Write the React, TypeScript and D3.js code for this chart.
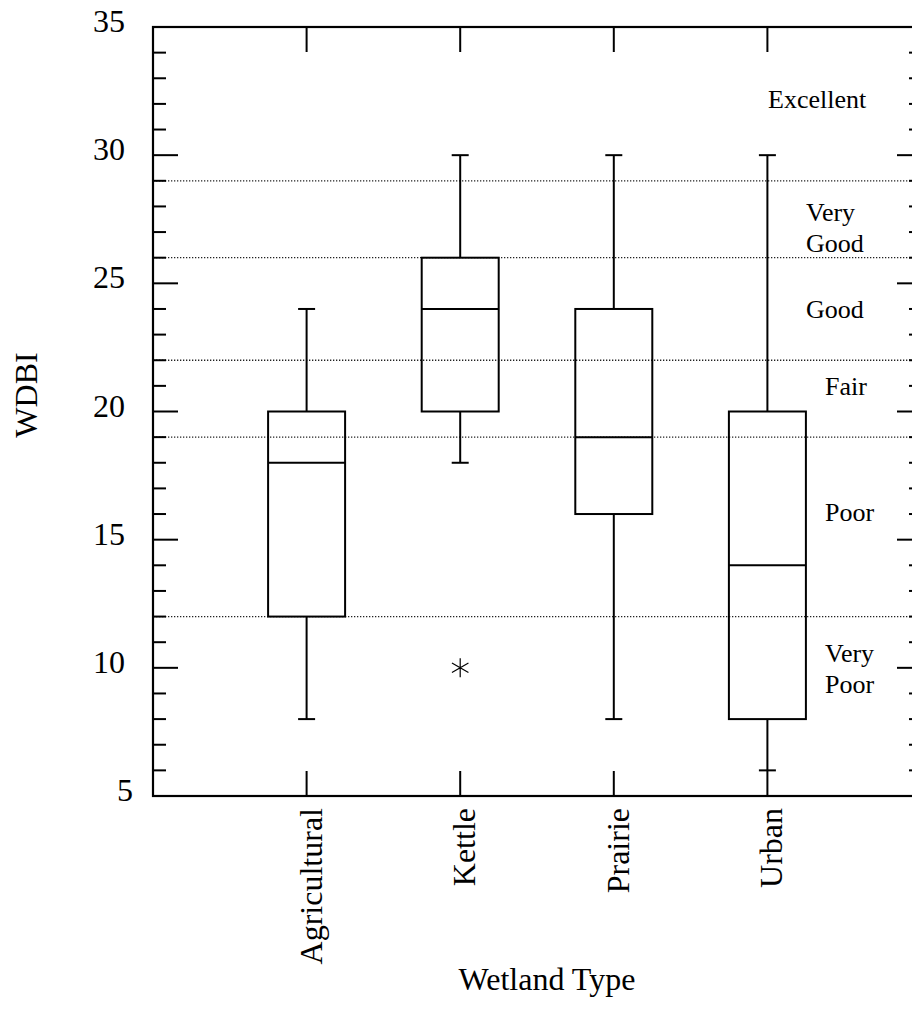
import React from 'react';
import * as d3 from 'd3';

// box plot summary per wetland type
const categories = ['Agricultural', 'Kettle', 'Prairie', 'Urban'];
const whiskerLow = [8, 18, 8, 6];
const quartile1 = [12, 20, 16, 8];
const medians = [18, 24, 19, 14];
const quartile3 = [20, 26, 24, 20];
const whiskerHigh = [24, 30, 30, 30];

const outlierCategories = ['Kettle'];
const outlierValues = [10];

// WDBI condition class limits and labels
const classLimits = [29, 26, 22, 19, 12];
const classLabels = [['Excellent'], ['Very', 'Good'], ['Good'], ['Fair'], ['Poor'], ['Very', 'Poor']];
const classLabelValues = [32.2, 27.2, 24, 21, 16.1, 10];

const yMajorTicks = [5, 10, 15, 20, 25, 30, 35];
const yMinorTicks = d3.range(5, 36);

const W = 912;
const H = 1024;
const FONT = '"Liberation Serif", "Times New Roman", serif';

const App = () => {
  const left = 153;
  const right = 922;
  const top = 27;
  const bottom = 796;

  const y = d3.scaleLinear().domain([5, 35]).range([bottom, top]);
  const x = d3.scalePoint<string>().domain(categories).range([left, 921]).padding(1);

  const boxHalf = 38.5;
  const capHalf = 8.5;
  const majorLen = 25;
  const minorLen = 13;

  const labelX = [768, 806, 806, 825, 825, 825];
  const lineGap = 31;

  const asterisk = d3.symbol(d3.symbolAsterisk, 256)();

  return (
    <svg width={W} height={H} style={{ position: 'absolute', left: 0, top: 0, background: '#fff' }}
      fontFamily={FONT}>
      {/* condition class limits */}
      {classLimits.map(v => (
        <line key={'lim' + v} x1={left} x2={right} y1={y(v)} y2={y(v)}
          stroke="#222" strokeWidth={1.3} strokeDasharray="1.3,1.7" />
      ))}

      {/* frame */}
      <rect x={left} y={top} width={right - left} height={bottom - top}
        fill="none" stroke="#000" strokeWidth={2.2} />

      {/* y ticks, left and right */}
      {yMinorTicks.map(v => {
        const len = v % 5 === 0 ? majorLen : minorLen;
        return (
          <g key={'yt' + v}>
            <line x1={left} x2={left + len} y1={y(v)} y2={y(v)} stroke="#000" strokeWidth={2} />
            <line x1={right} x2={right - len} y1={y(v)} y2={y(v)} stroke="#000" strokeWidth={2} />
          </g>
        );
      })}
      {yMajorTicks.map(v => (
        <text key={'yl' + v} x={v < 10 ? 133 : 125} y={y(v) + 5} textAnchor="end"
          fontSize={32} fill="#000">{v}</text>
      ))}

      {/* x ticks, top and bottom */}
      {categories.map(c => (
        <g key={'xt' + c}>
          <line x1={x(c)} x2={x(c)} y1={bottom} y2={bottom - majorLen} stroke="#000" strokeWidth={2} />
          <line x1={x(c)} x2={x(c)} y1={top} y2={top + majorLen} stroke="#000" strokeWidth={2} />
          <text transform={`translate(${(x(c) as number) + 15},808) rotate(-90)`} textAnchor="end"
            fontSize={32} fill="#000">{c}</text>
        </g>
      ))}

      {/* boxes */}
      {categories.map((c, i) => {
        const cx = x(c) as number;
        return (
          <g key={'box' + c} stroke="#000" strokeWidth={2} fill="none">
            <line x1={cx} x2={cx} y1={y(quartile3[i])} y2={y(whiskerHigh[i])} />
            <line x1={cx} x2={cx} y1={y(quartile1[i])} y2={y(whiskerLow[i])} />
            <line x1={cx - capHalf} x2={cx + capHalf} y1={y(whiskerHigh[i])} y2={y(whiskerHigh[i])} />
            <line x1={cx - capHalf} x2={cx + capHalf} y1={y(whiskerLow[i])} y2={y(whiskerLow[i])} />
            <rect x={cx - boxHalf} y={y(quartile3[i])} width={boxHalf * 2}
              height={y(quartile1[i]) - y(quartile3[i])} />
            <line x1={cx - boxHalf} x2={cx + boxHalf} y1={y(medians[i])} y2={y(medians[i])} />
          </g>
        );
      })}

      {/* outliers */}
      {outlierCategories.map((c, i) => (
        <path key={'out' + i} d={asterisk as string}
          transform={`translate(${x(c)},${y(outlierValues[i])})`}
          fill="none" stroke="#000" strokeWidth={1.2} />
      ))}

      {/* class labels */}
      {classLabels.map((lines, i) => {
        const cy = y(classLabelValues[i]);
        const first = cy - ((lines.length - 1) * lineGap) / 2 + 9.5;
        return (
          <text key={'cl' + i} fontSize={26} fill="#000">
            {lines.map((t, j) => (
              <tspan key={j} x={labelX[i]} y={first + j * lineGap}>{t}</tspan>
            ))}
          </text>
        );
      })}

      {/* axis titles */}
      <text transform="translate(37,395) rotate(-90)" textAnchor="middle" fontSize={32} fill="#000">WDBI</text>
      <text x={547} y={990} textAnchor="middle" fontSize={32} fill="#000">Wetland Type</text>
    </svg>
  );
};

export default App;
